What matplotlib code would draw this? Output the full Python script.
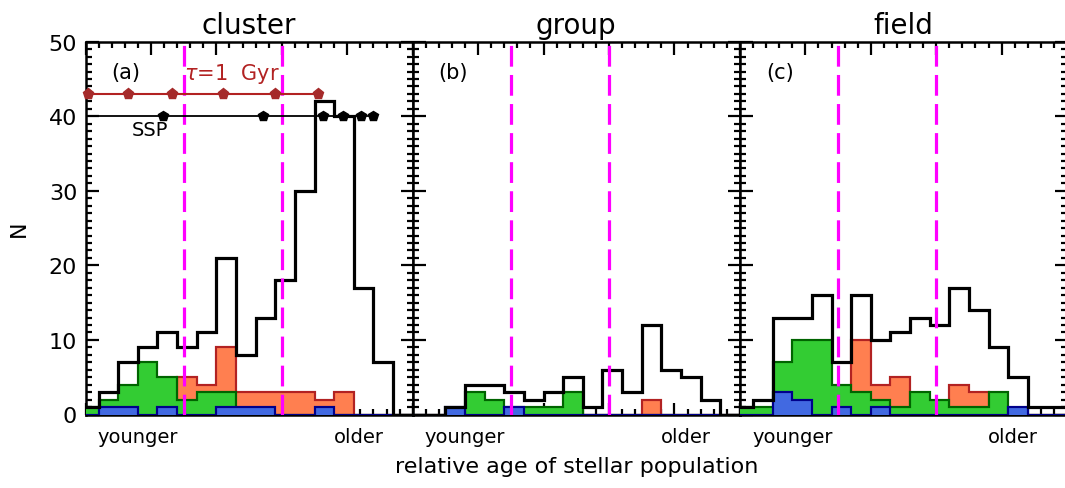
import numpy as np
import matplotlib
matplotlib.use("Agg")
import matplotlib.pyplot as plt
from matplotlib.ticker import MultipleLocator

# bin edges (first bin is cut by the left axis)
edges = [-0.1, 0.2, 0.5, 0.8, 1.1, 1.4, 1.7, 2.0, 2.3, 2.6, 2.9, 3.2, 3.5, 3.8, 4.1, 4.4, 4.7, 5.0]

panels = ["cluster", "group", "field"]
letters = ["(a)", "(b)", "(c)"]

# counts per bin: all, and the three sub-samples
all_cluster = [1, 3, 7, 9, 11, 9, 11, 21, 8, 13, 18, 30, 42, 40, 17, 7, 0]
green_cluster = [1, 2, 4, 7, 5, 2, 3, 3, 0, 0, 0, 0, 0, 0, 0, 0, 0]
orange_cluster = [0, 0, 0, 0, 0, 5, 4, 9, 3, 3, 3, 3, 2, 3, 0, 0, 0]
blue_cluster = [0, 1, 1, 0, 1, 0, 0, 1, 1, 1, 0, 0, 1, 0, 0, 0, 0]

all_group = [0, 0, 1, 4, 4, 3, 2, 3, 5, 1, 6, 3, 12, 6, 5, 2, 0]
green_group = [0, 0, 0, 3, 2, 1, 1, 1, 3, 0, 0, 0, 0, 0, 0, 0, 0]
orange_group = [0, 0, 0, 0, 0, 0, 0, 0, 0, 0, 0, 0, 2, 0, 0, 0, 0]
blue_group = [0, 0, 1, 0, 0, 1, 0, 0, 0, 0, 0, 0, 0, 0, 0, 0, 0]

all_field = [1, 2, 13, 13, 16, 7, 16, 10, 11, 13, 12, 17, 14, 9, 5, 1, 1]
green_field = [1, 1, 7, 10, 10, 4, 3, 2, 1, 3, 2, 1, 1, 3, 0, 0, 0]
orange_field = [0, 0, 0, 0, 0, 0, 10, 4, 5, 0, 0, 4, 3, 0, 0, 0, 0]
blue_field = [0, 0, 3, 2, 0, 1, 0, 1, 0, 0, 0, 0, 0, 0, 1, 0, 0]

# age tracks in panel (a)
ssp_x = [1.19, 2.71, 3.63, 3.93, 4.21, 4.40]
ssp_y = 40
tau_x = [0.04, 0.65, 1.32, 2.10, 2.89, 3.55]
tau_y = 43

cuts = [1.5, 3.0]

data = [
    (all_cluster, green_cluster, orange_cluster, blue_cluster),
    (all_group, green_group, orange_group, blue_group),
    (all_field, green_field, orange_field, blue_field),
]

fig = plt.figure(figsize=(10.65, 4.89), dpi=100)
W, H = 1065.0, 489.0
x0, pw = 85.5, 327.2
top, bot = 42.7, 415.5

for i in range(3):
    ax = fig.add_axes([(x0 + i * pw) / W, (H - bot) / H, pw / W, (bot - top) / H])
    tot, gr, orr, bl = data[i]
    ax.stairs(orr, edges, fill=True, facecolor="#ff7f50", edgecolor="#b22222", lw=1.5, zorder=2)
    ax.stairs(orr, edges, fill=False, color="#b22222", lw=1.5, zorder=2)
    ax.stairs(gr, edges, fill=True, facecolor="#33cc33", edgecolor="#006400", lw=1.5, zorder=3)
    ax.stairs(gr, edges, fill=False, color="#006400", lw=1.5, zorder=3)
    ax.stairs(bl, edges, fill=True, facecolor="#4169e1", edgecolor="#00008b", lw=1.5, zorder=4)
    ax.stairs(bl, edges, fill=False, color="#00008b", lw=1.5, zorder=4)
    ax.stairs(tot, edges, baseline=None, color="black", lw=2.3, zorder=5)
    for c in cuts:
        ax.axvline(c, color="#ff00ff", lw=2.3, dashes=(6.5, 2.6), zorder=6)

    ax.set_xlim(0, 5)
    ax.set_ylim(0, 50)
    ax.xaxis.set_major_locator(MultipleLocator(1))
    ax.xaxis.set_minor_locator(MultipleLocator(0.2))
    ax.yaxis.set_major_locator(MultipleLocator(10))
    ax.yaxis.set_minor_locator(MultipleLocator(1))
    ax.tick_params(which="both", direction="in", top=True, right=True, width=1.6)
    ax.tick_params(which="major", length=9)
    ax.tick_params(which="minor", length=4)
    ax.set_xticklabels([])
    if i > 0:
        ax.set_yticklabels([])
    else:
        ax.tick_params(axis="y", labelsize=16, pad=6)
    for s in ax.spines.values():
        s.set_linewidth(1.8)

    ax.set_title(panels[i], fontsize=20, pad=6)
    ax.text(0.62, 45.9, letters[i], fontsize=15, ha="center", va="center", zorder=7)
    ax.text(0.8, -3.0, "younger", fontsize=14, ha="center", va="center", clip_on=False)
    ax.text(4.17, -3.0, "older", fontsize=14, ha="center", va="center", clip_on=False)

    if i == 0:
        ax.plot([0, ssp_x[-1]], [ssp_y, ssp_y], color="black", lw=1.3, zorder=7)
        ax.plot(ssp_x, [ssp_y] * len(ssp_x), "p", color="black", ms=7, zorder=8)
        ax.plot([0, tau_x[-1]], [tau_y, tau_y], color="#b22222", lw=1.5, zorder=7, clip_on=False)
        ax.plot(tau_x, [tau_y] * len(tau_x), "p", color="#a52a2a", ms=8, zorder=8, clip_on=False)
        ax.text(0.99, 38.2, "SSP", fontsize=14, ha="center", va="center", zorder=7)
        ax.text(2.23, 45.8, r"$\tau$=1  Gyr", fontsize=15, color="#b22222",
                ha="center", va="center", zorder=7)
        ax.set_ylabel("N", fontsize=16, labelpad=14)

fig.text(577 / W, 1 - 467 / H, "relative age of stellar population", fontsize=16,
         ha="center", va="center")

fig.savefig("out.png", dpi=100)
